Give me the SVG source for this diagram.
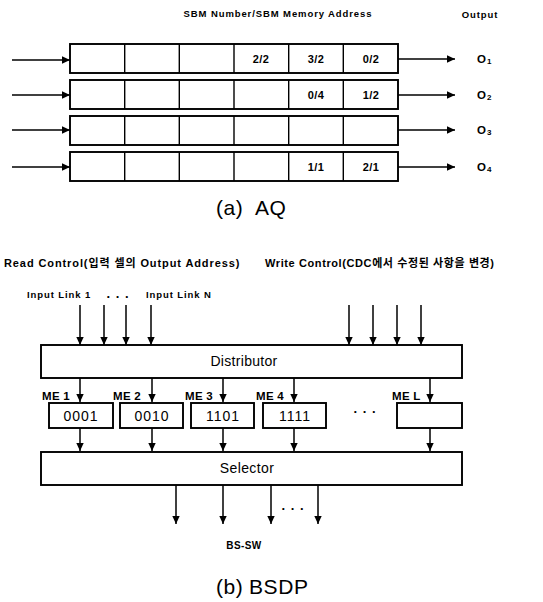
<svg xmlns="http://www.w3.org/2000/svg" width="543" height="602" viewBox="0 0 543 602">
<defs>
<marker id="ah" markerWidth="8" markerHeight="9" refX="8" refY="4.5" orient="auto" markerUnits="userSpaceOnUse">
<path d="M0,0.8 L8,4.5 L0,8.2 Z" fill="#000"/>
</marker>
<style>
.box{fill:#fff;stroke:#000;stroke-width:1.9}
.cell{stroke:#000;stroke-width:1.4}
.ln{stroke:#000;stroke-width:1.5;fill:none;marker-end:url(#ah)}
.t{font-family:"Liberation Sans","Noto Sans CJK KR",Arial,sans-serif;fill:#000}
.sm{font-size:9.5px;font-weight:bold;letter-spacing:0.9px}
.ct{font-size:11px;font-weight:bold;text-anchor:middle;letter-spacing:0.4px}
.big{font-size:21px;letter-spacing:0.6px}
.num{font-size:14px;text-anchor:middle;letter-spacing:1px}
.me{font-size:11.5px;font-weight:bold;letter-spacing:0.3px}
.dots{font-size:13px;font-weight:bold;text-anchor:middle;letter-spacing:1px}
</style>
</defs>
<rect width="543" height="602" fill="#fff"/>

<!-- (a) AQ -->
<text class="t sm" x="278" y="17" text-anchor="middle">SBM Number/SBM Memory Address</text>
<text class="t sm" x="480" y="18" text-anchor="middle">Output</text>

<g id="row1">
<rect class="box" x="70" y="44" width="328" height="29"/>
<path class="cell" d="M124.7,44V73M179.3,44V73M234,44V73M288.7,44V73M343.3,44V73"/>
<text class="t ct" x="261" y="63">2/2</text>
<text class="t ct" x="316" y="63">3/2</text>
<text class="t ct" x="371" y="63">0/2</text>
</g>
<g id="row2">
<rect class="box" x="70" y="80" width="328" height="29"/>
<path class="cell" d="M124.7,80V109M179.3,80V109M234,80V109M288.7,80V109M343.3,80V109"/>
<text class="t ct" x="316" y="99">0/4</text>
<text class="t ct" x="371" y="99">1/2</text>
</g>
<g id="row3">
<rect class="box" x="70" y="116" width="328" height="29"/>
<path class="cell" d="M124.7,116V145M179.3,116V145M234,116V145M288.7,116V145M343.3,116V145"/>
</g>
<g id="row4">
<rect class="box" x="70" y="152" width="328" height="29"/>
<path class="cell" d="M124.7,152V181M179.3,152V181M234,152V181M288.7,152V181M343.3,152V181"/>
<text class="t ct" x="316" y="171">1/1</text>
<text class="t ct" x="371" y="171">2/1</text>
</g>

<g id="outputs">
<text class="t" x="477" y="63" font-size="11.5" font-weight="bold">O<tspan font-size="8" dx="1" dy="1">1</tspan></text>
<text class="t" x="477" y="99" font-size="11.5" font-weight="bold">O<tspan font-size="8" dx="1" dy="1">2</tspan></text>
<text class="t" x="477" y="134" font-size="11.5" font-weight="bold">O<tspan font-size="8" dx="1" dy="1">3</tspan></text>
<text class="t" x="477" y="171" font-size="11.5" font-weight="bold">O<tspan font-size="8" dx="1" dy="1">4</tspan></text>
</g>

<g id="aq-connectors">
<line class="ln" x1="12" y1="60" x2="70" y2="60"/>
<line class="ln" x1="12" y1="95" x2="70" y2="95"/>
<line class="ln" x1="12" y1="130" x2="70" y2="130"/>
<line class="ln" x1="12" y1="167" x2="70" y2="167"/>
<line class="ln" x1="398" y1="59" x2="455" y2="59"/>
<line class="ln" x1="398" y1="95" x2="455" y2="95"/>
<line class="ln" x1="398" y1="130" x2="455" y2="130"/>
<line class="ln" x1="398" y1="167" x2="455" y2="167"/>
</g>

<text class="t big" x="216" y="215">(a)</text>
<text class="t big" x="255" y="215">AQ</text>

<!-- (b) BSDP -->
<text class="t" x="4" y="267" font-size="11" font-weight="bold" letter-spacing="0.9">Read Control(입력 셀의 Output Address)</text>
<text class="t" x="265" y="267" font-size="11" font-weight="bold" letter-spacing="0.6">Write Control(CDC에서 수정된 사항을 변경)</text>

<text class="t sm" x="27" y="298" letter-spacing="0.6">Input Link 1</text>
<text class="t sm" x="146" y="298" letter-spacing="0.6">Input Link N</text>
<text class="t dots" x="118" y="298">. . .</text>

<g id="distributor">
<rect class="box" x="41" y="345" width="421" height="33"/>
<text class="t" x="244" y="366" font-size="14" text-anchor="middle" letter-spacing="0.3">Distributor</text>
</g>

<g id="me1">
<rect class="box" x="49" y="403" width="64" height="25"/>
<text class="t num" x="81" y="421">0001</text>
<text class="t me" x="42" y="400">ME 1</text>
</g>
<g id="me2">
<rect class="box" x="120" y="403" width="63" height="25"/>
<text class="t num" x="152" y="421">0010</text>
<text class="t me" x="113" y="400">ME 2</text>
</g>
<g id="me3">
<rect class="box" x="191" y="403" width="63" height="25"/>
<text class="t num" x="223" y="421">1101</text>
<text class="t me" x="185" y="400">ME 3</text>
</g>
<g id="me4">
<rect class="box" x="263" y="403" width="63" height="25"/>
<text class="t num" x="295" y="421">1111</text>
<text class="t me" x="256" y="400">ME 4</text>
</g>
<text class="t dots" x="365" y="413">. . .</text>
<g id="meL">
<rect class="box" x="397" y="403" width="65" height="25"/>
<text class="t me" x="392" y="400">ME L</text>
</g>

<g id="selector">
<rect class="box" x="41" y="452" width="421" height="33"/>
<text class="t" x="247" y="473" font-size="14" text-anchor="middle" letter-spacing="0.4">Selector</text>
</g>

<text class="t dots" x="293" y="510">. . .</text>
<text class="t" x="244" y="549" font-size="10" font-weight="bold" text-anchor="middle" letter-spacing="0.4">BS-SW</text>
<text class="t big" x="216" y="594">(b)</text>
<text class="t big" x="249" y="594">BSDP</text>

<g id="bsdp-connectors">
<line class="ln" x1="80" y1="305" x2="80" y2="345"/>
<line class="ln" x1="104" y1="305" x2="104" y2="345"/>
<line class="ln" x1="126" y1="305" x2="126" y2="345"/>
<line class="ln" x1="151" y1="305" x2="151" y2="345"/>
<line class="ln" x1="349" y1="305" x2="349" y2="345"/>
<line class="ln" x1="373" y1="305" x2="373" y2="345"/>
<line class="ln" x1="397" y1="305" x2="397" y2="345"/>
<line class="ln" x1="421" y1="305" x2="421" y2="345"/>
<line class="ln" x1="80" y1="378" x2="80" y2="402"/>
<line class="ln" x1="152" y1="378" x2="152" y2="402"/>
<line class="ln" x1="223" y1="378" x2="223" y2="402"/>
<line class="ln" x1="294" y1="378" x2="294" y2="402"/>
<line class="ln" x1="430" y1="378" x2="430" y2="402"/>
<line class="ln" x1="80" y1="428" x2="80" y2="451"/>
<line class="ln" x1="152" y1="428" x2="152" y2="451"/>
<line class="ln" x1="223" y1="428" x2="223" y2="451"/>
<line class="ln" x1="294" y1="428" x2="294" y2="451"/>
<line class="ln" x1="430" y1="428" x2="430" y2="451"/>
<line class="ln" x1="176" y1="485" x2="176" y2="524"/>
<line class="ln" x1="223" y1="485" x2="223" y2="524"/>
<line class="ln" x1="271" y1="485" x2="271" y2="524"/>
<line class="ln" x1="318" y1="485" x2="318" y2="524"/>
</g>
</svg>
